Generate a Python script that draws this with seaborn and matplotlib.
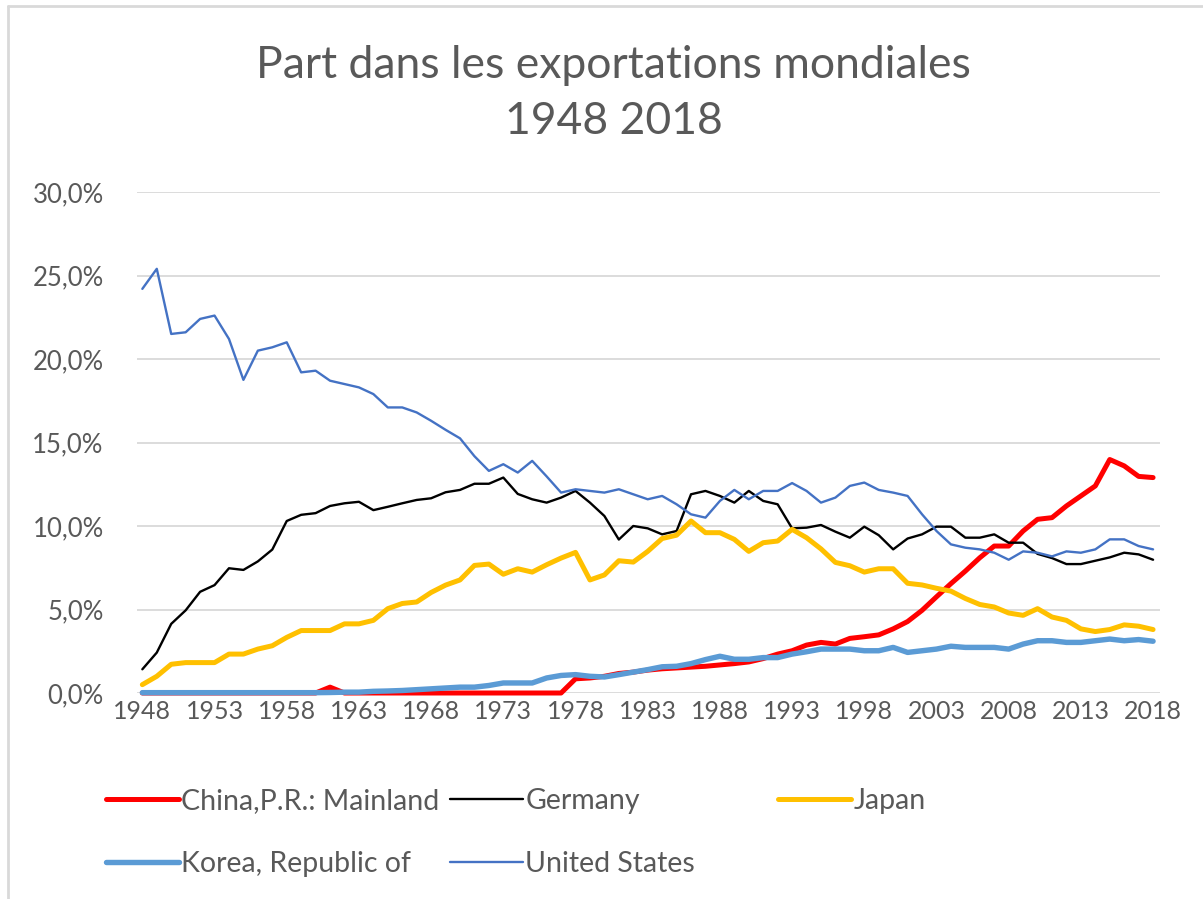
import numpy as np
import pandas as pd
import seaborn as sns
import matplotlib.pyplot as plt
from matplotlib.lines import Line2D
from matplotlib.ticker import FuncFormatter

# Part dans les exportations mondiales (%), 1948-2018
years = list(range(1948, 2019))

china = [0.0, 0.0, 0.0, 0.0, 0.0, 0.0, 0.0, 0.0, 0.0, 0.0,
         0.0, 0.0, 0.0, 0.35, 0.0, 0.0, 0.0, 0.0, 0.0, 0.0,
         0.0, 0.0, 0.0, 0.0, 0.0, 0.0, 0.0, 0.0, 0.0, 0.0,
         0.85, 0.9, 1.0, 1.17, 1.25, 1.37, 1.45, 1.5, 1.55, 1.6,
         1.68, 1.76, 1.86, 2.06, 2.33, 2.53, 2.87, 3.03, 2.93, 3.27,
         3.37, 3.48, 3.84, 4.28, 4.95, 5.76, 6.55, 7.3, 8.1, 8.8,
         8.8, 9.7, 10.4, 10.5, 11.2, 11.8, 12.4, 13.98, 13.6, 12.97,
         12.9]

germany = [1.42, 2.42, 4.14, 4.95, 6.06, 6.46, 7.47, 7.37, 7.88, 8.59,
           10.3, 10.67, 10.77, 11.2, 11.36, 11.45, 10.95, 11.15, 11.36, 11.56,
           11.66, 12.02, 12.16, 12.53, 12.53, 12.9, 11.92, 11.6, 11.4, 11.7,
           12.1, 11.4, 10.6, 9.19, 10.0, 9.86, 9.5, 9.7, 11.9, 12.1,
           11.8, 11.4, 12.1, 11.5, 11.3, 9.86, 9.9, 10.06, 9.66, 9.3,
           9.96, 9.45, 8.6, 9.25, 9.5, 9.96, 9.96, 9.3, 9.3, 9.5,
           9.0, 9.0, 8.33, 8.08, 7.72, 7.72, 7.92, 8.12, 8.4, 8.3,
           7.98]

japan = [0.5, 1.0, 1.72, 1.82, 1.82, 1.82, 2.33, 2.33, 2.63, 2.83,
         3.33, 3.74, 3.74, 3.74, 4.14, 4.14, 4.35, 5.05, 5.36, 5.45,
         6.02, 6.46, 6.77, 7.64, 7.72, 7.11, 7.44, 7.24, 7.68, 8.08,
         8.42, 6.77, 7.07, 7.92, 7.84, 8.48, 9.25, 9.45, 10.3, 9.6,
         9.6, 9.2, 8.48, 9.0, 9.1, 9.8, 9.3, 8.63, 7.82, 7.62,
         7.24, 7.44, 7.44, 6.57, 6.47, 6.27, 6.1, 5.66, 5.3, 5.15,
         4.79, 4.65, 5.05, 4.55, 4.35, 3.84, 3.68, 3.8, 4.08, 4.0,
         3.8]

korea = [0.02, 0.02, 0.02, 0.02, 0.02, 0.02, 0.02, 0.02, 0.02, 0.02,
         0.02, 0.02, 0.02, 0.03, 0.05, 0.05, 0.1, 0.12, 0.15, 0.2,
         0.25, 0.3, 0.35, 0.35, 0.45, 0.6, 0.6, 0.6, 0.9, 1.05,
         1.1, 1.0, 0.96, 1.1, 1.25, 1.4, 1.57, 1.6, 1.76, 2.0,
         2.2, 2.02, 2.02, 2.12, 2.12, 2.33, 2.47, 2.63, 2.63, 2.63,
         2.53, 2.53, 2.73, 2.43, 2.53, 2.63, 2.8, 2.73, 2.73, 2.73,
         2.63, 2.93, 3.13, 3.13, 3.03, 3.03, 3.13, 3.23, 3.13, 3.2,
         3.1]

usa = [24.2, 25.4, 21.5, 21.6, 22.4, 22.6, 21.2, 18.75, 20.5, 20.7,
       21.0, 19.2, 19.3, 18.7, 18.5, 18.3, 17.9, 17.1, 17.1, 16.8,
       16.3, 15.76, 15.25, 14.18, 13.3, 13.7, 13.2, 13.9, 12.97, 12.0,
       12.2, 12.1, 12.0, 12.2, 11.9, 11.6, 11.8, 11.3, 10.7, 10.5,
       11.5, 12.16, 11.6, 12.1, 12.1, 12.57, 12.1, 11.4, 11.7, 12.4,
       12.6, 12.16, 12.0, 11.8, 10.7, 9.7, 8.9, 8.7, 8.6, 8.4,
       7.98, 8.48, 8.4, 8.18, 8.48, 8.4, 8.6, 9.2, 9.2, 8.8,
       8.6]

labels = ['China,P.R.: Mainland', 'Germany', 'Japan', 'Korea, Republic of', 'United States']
colors = ['#FF0000', '#000000', '#FFC000', '#5B9BD5', '#4472C4']
widths = [3.6, 1.7, 3.6, 3.9, 1.7]
tick_years = list(range(1948, 2019, 5))

df = pd.DataFrame({'year': years, labels[0]: china, labels[1]: germany,
                   labels[2]: japan, labels[3]: korea, labels[4]: usa})

sns.set_theme(style='white')
plt.rcParams['font.family'] = ['Lato', 'DejaVu Sans']
grey = '#595959'

fig = plt.figure(figsize=(12.03, 8.99), dpi=100)
ax = fig.add_axes([137 / 1203, 206 / 899, 1023 / 1203, 501 / 899])

handles = []
for lab, col, lw in zip(labels, colors, widths):
    sns.lineplot(data=df, x='year', y=lab, ax=ax, color=col, linewidth=lw,
                 solid_joinstyle='round', solid_capstyle='round', clip_on=False)
    handles.append(Line2D([0], [0], color=col, linewidth=lw, solid_capstyle='round'))

ax.set_xlim(1947.63, 2018.48)
ax.set_ylim(0, 30)
ax.set_yticks(range(0, 31, 5))
ax.set_xticks(tick_years)
ax.yaxis.set_major_formatter(FuncFormatter(lambda v, p: f'{v:.1f}%'.replace('.', ',')))
ax.grid(axis='y', color='#D9D9D9', linewidth=1.3)
ax.set_axisbelow(True)
for s in ax.spines.values():
    s.set_visible(False)
ax.tick_params(axis='y', length=0, pad=24, labelsize=18.5, labelcolor=grey)
ax.tick_params(axis='x', length=0, pad=5, labelsize=18, labelcolor=grey)
ax.set_xlabel('')
ax.set_ylabel('')

fig.text(0.51, 1 - 65 / 899, 'Part dans les exportations mondiales', ha='center', va='center',
         fontsize=32, color=grey)
fig.text(0.51, 1 - 121 / 899, '1948 2018', ha='center', va='center', fontsize=32, color=grey)

# legend: three columns, equal widths like Excel
leg_kw = dict(frameon=False, fontsize=20.5, labelcolor=grey, handlelength=2.55,
              handletextpad=0.1, labelspacing=1.3, borderaxespad=0, borderpad=0)
cols = [(106, [0, 3]), (450, [1, 4]), (778, [2])]
for x0, idx in cols:
    leg = fig.legend([handles[i] for i in idx], [labels[i] for i in idx],
                     loc='upper left', bbox_to_anchor=(x0 / 1203, 1 - 788 / 899), **leg_kw)

# chart border (left and top visible)
fig.add_artist(Line2D([7.5 / 1203, 7.5 / 1203], [0, 1 - 6 / 899], color='#D9D9D9', linewidth=2))
fig.add_artist(Line2D([7.5 / 1203, 1], [1 - 6 / 899, 1 - 6 / 899], color='#D9D9D9', linewidth=2))

fig.savefig('out.png', dpi=100)
